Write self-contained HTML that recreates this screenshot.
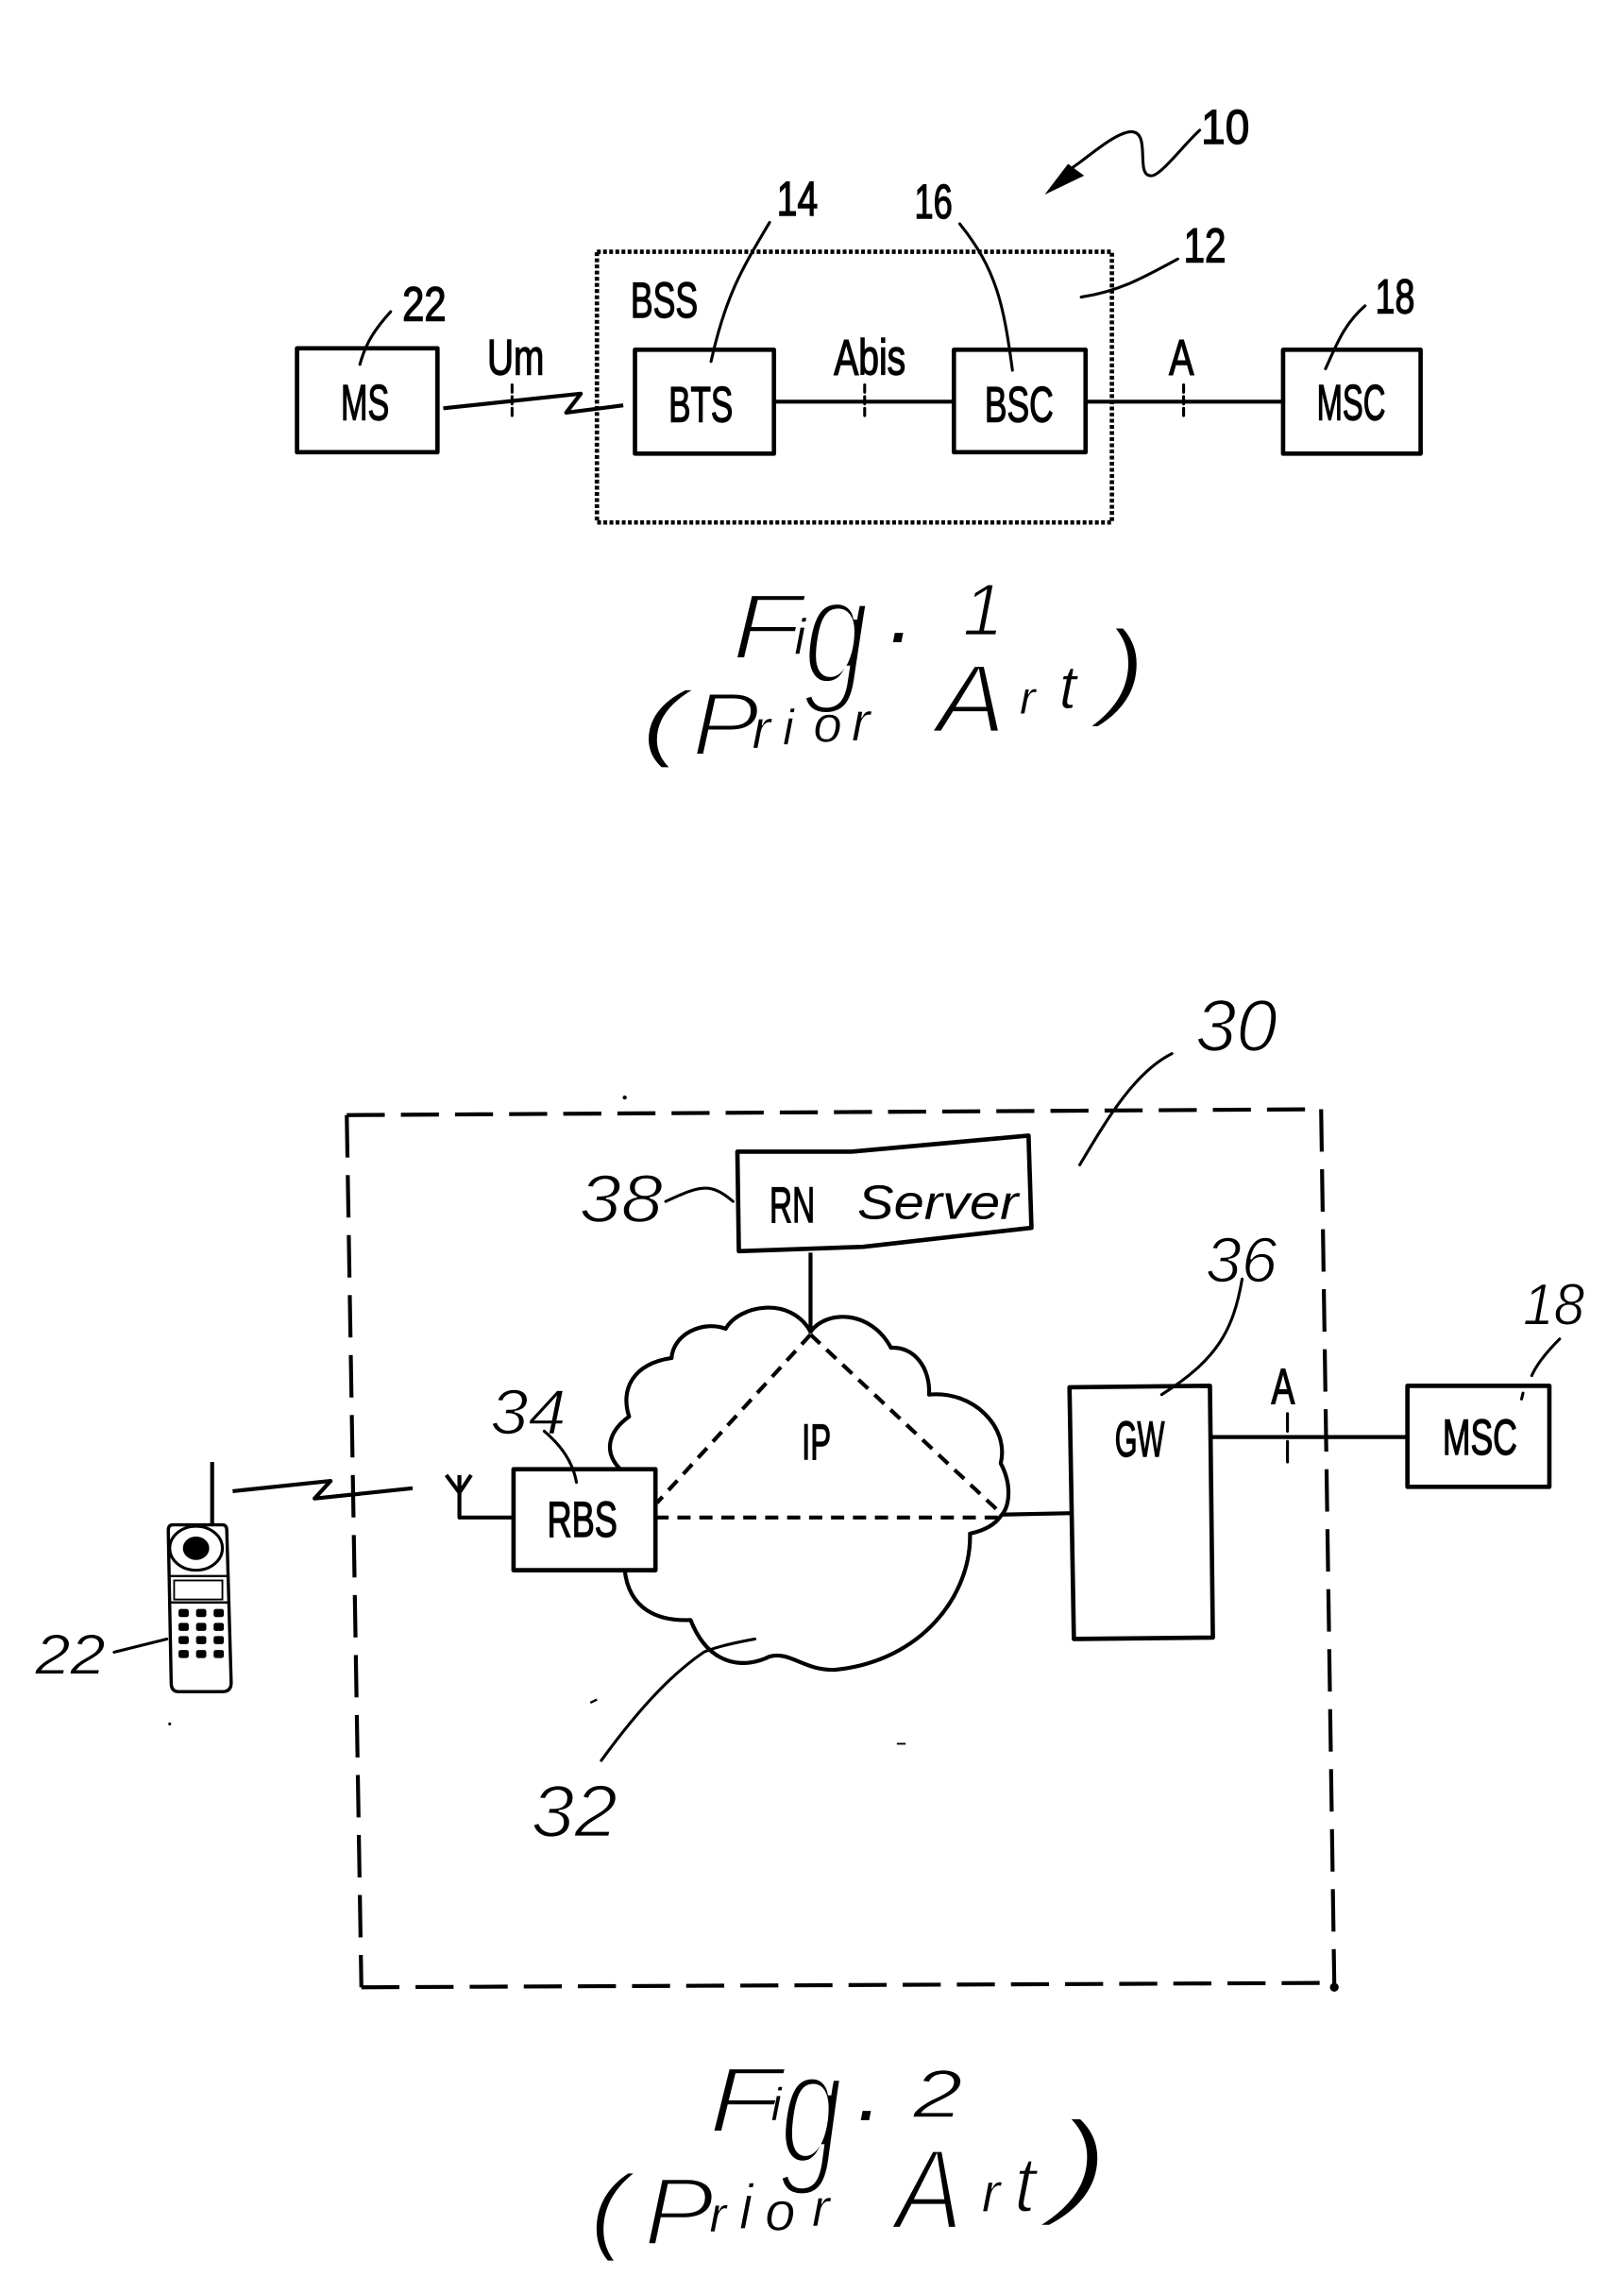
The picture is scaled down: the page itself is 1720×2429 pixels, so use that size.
<!DOCTYPE html>
<html lang="en"><head><meta charset="utf-8"><title>Fig. 1 and Fig. 2 (Prior Art)</title>
<style>
html,body{margin:0;padding:0;background:#fff}
svg{display:block}
.l{fill:none;stroke:#000;stroke-width:2.7;stroke-linecap:butt;stroke-linejoin:round}
.t{fill:none;stroke:#000;stroke-width:2;stroke-linecap:round}
.box{fill:#fff;stroke:#000;stroke-width:3;stroke-linejoin:round}
text{font-family:"Liberation Sans",sans-serif;fill:#000}
.p{font-size:34px;stroke:#000;stroke-width:.9}
.n{font-size:33px;stroke:#000;stroke-width:.9}
.h{font-style:italic;stroke:#fff}
</style></head><body>
<svg xmlns="http://www.w3.org/2000/svg" width="1720" height="2429" viewBox="0 0 1110 1567.6">
<rect width="1110" height="1568" fill="#fff"/>

<!-- FIG 1 -->
<rect x="408" y="172" width="352" height="185" fill="none" stroke="#000" stroke-width="3" stroke-dasharray="2.6 1.6"/>
<path class="l" stroke-width="3.2" d="M529,274.5H652M742,274.5H877"/>
<path class="l" stroke-width="3" d="M303,279L397,269L387,282L426,277"/>
<path class="t" stroke-width="2.4" stroke-linecap="butt" stroke-dasharray="5 3" d="M350,263V287M591,263V287M809,263V287"/>
<rect class="box" x="203" y="238" width="96" height="71"/>
<rect class="box" x="434" y="239" width="95" height="71"/>
<rect class="box" x="652" y="239" width="90" height="70"/>
<rect class="box" x="877" y="239" width="94" height="71"/>
<text class="p" x="233" y="287" textLength="33" lengthAdjust="spacingAndGlyphs">MS</text>
<text class="p" x="457" y="288" textLength="44" lengthAdjust="spacingAndGlyphs">BTS</text>
<text class="p" x="673" y="288" textLength="47" lengthAdjust="spacingAndGlyphs">BSC</text>
<text class="p" x="900" y="287" textLength="47" lengthAdjust="spacingAndGlyphs">MSC</text>
<text class="p" x="333" y="256" textLength="39" lengthAdjust="spacingAndGlyphs">Um</text>
<text class="p" x="570" y="256" textLength="49" lengthAdjust="spacingAndGlyphs">Abis</text>
<text class="p" x="799" y="256" textLength="17" lengthAdjust="spacingAndGlyphs">A</text>
<text class="p" x="431" y="217" textLength="46" lengthAdjust="spacingAndGlyphs">BSS</text>
<text class="n" x="275" y="219" textLength="30" lengthAdjust="spacingAndGlyphs">22</text>
<text class="n" x="531" y="147" textLength="28" lengthAdjust="spacingAndGlyphs">14</text>
<text class="n" x="625" y="149" textLength="26" lengthAdjust="spacingAndGlyphs">16</text>
<text class="n" x="809" y="179" textLength="29" lengthAdjust="spacingAndGlyphs">12</text>
<text class="n" x="940" y="214" textLength="27" lengthAdjust="spacingAndGlyphs">18</text>
<text class="n" x="821" y="98" textLength="33" lengthAdjust="spacingAndGlyphs">10</text>
<path class="t" d="M267,213C257,224 250,234 246,249M526,152C507,184 496,202 486,247M656,153C681,184 686,208 692,253M805,177C781,190 765,199 739,203M933,209C918,222 913,237 906,252"/>
<path class="t" stroke-width="2.4" d="M820,89C808,100 792,122 786,120C776,119 787,90 773,90C760,91 739,112 729,117"/>
<path d="M714,133L730,112L741,120Z" fill="#000"/>

<!-- Fig 1 caption -->
<text class="h" x="549" y="467" font-size="104" textLength="45" lengthAdjust="spacingAndGlyphs" stroke-width="4">g</text>
<text class="h" x="500" y="450" font-size="64" textLength="48" lengthAdjust="spacingAndGlyphs" stroke-width="2.2">F</text>
<text class="h" x="543" y="447" font-size="34" stroke-width=".3">i</text>
<text class="h" x="608" y="439" font-size="60" stroke-width="0">.</text>
<text class="h" x="658" y="434" font-size="50" stroke-width="1.2">1</text>
<text class="h" x="438" y="513" font-size="58" textLength="30" lengthAdjust="spacingAndGlyphs" stroke-width="1.5">(</text>
<text class="h" x="473" y="516" font-size="61" textLength="46" lengthAdjust="spacingAndGlyphs" stroke-width="2">P</text>
<text class="h" x="514" y="511" font-size="38" stroke-width=".5">r</text>
<text class="h" x="535" y="509" font-size="34" stroke-width=".4">i</text>
<text class="h" x="556" y="507" font-size="35" stroke-width=".4">o</text>
<text class="h" x="582" y="506" font-size="38" stroke-width=".5">r</text>
<text class="h" x="640" y="500" font-size="66" textLength="47" lengthAdjust="spacingAndGlyphs" stroke-width="1.8">A</text>
<text class="h" x="697" y="488" font-size="32" stroke-width=".3">r</text>
<text class="h" x="724" y="484" font-size="42" stroke-width=".6">t</text>
<text class="h" x="752" y="482" font-size="74" textLength="32" lengthAdjust="spacingAndGlyphs" stroke-width="2.2">)</text>

<!-- FIG 2 -->
<path class="l" stroke-width="3" stroke-dasharray="26 11" d="M237,762L903,758"/>
<path class="l" stroke-width="3" stroke-dasharray="29 12" d="M237,762L247,1358"/>
<path class="l" stroke-width="3" stroke-dasharray="29 12" d="M903,758L912,1356"/>
<path class="l" stroke-width="3" stroke-dasharray="26 11" d="M247,1358L912,1355"/>
<circle cx="912" cy="1358" r="3"/>

<path class="l" d="M424,1004C412,992 416,978 430,968C424,950 432,932 459,928C460,912 480,902 496,908C505,892 540,885 554,910C565,895 595,895 609,921C625,920 636,935 635,953C665,950 690,975 684,1000C692,1015 690,1030 684,1036C680,1042 672,1046 663,1048C664,1090 630,1135 571,1141C550,1142 540,1128 526,1132C510,1140 485,1140 472,1107C450,1108 430,1100 427,1073"/>
<path class="l" d="M554,856V911M684,1035L733,1034M828,982H962"/>
<path class="l" stroke-dasharray="9 6" d="M554,912L449,1027M554,912L684,1034M448,1037H684"/>
<path class="box" d="M504,787L582,787L703,776L705,839L590,852L505,855Z"/>
<rect class="box" x="351" y="1004" width="97" height="69"/>
<path class="box" d="M731,948L827,947L829,1119L734,1120Z"/>
<rect class="box" x="962" y="947" width="97" height="69"/>
<path class="t" stroke-width="2.6" stroke-linecap="butt" d="M880,966V978M880,985V999"/>

<text class="p" x="526" y="835" textLength="31" lengthAdjust="spacingAndGlyphs">RN</text>
<text class="h" x="586" y="833" font-size="33" textLength="110" lengthAdjust="spacingAndGlyphs" stroke-width="0">Server</text>
<text class="p" x="548" y="997" textLength="20" lengthAdjust="spacingAndGlyphs">IP</text>
<text class="p" x="374" y="1050" textLength="48" lengthAdjust="spacingAndGlyphs">RBS</text>
<text class="p" x="762" y="995" textLength="34" lengthAdjust="spacingAndGlyphs">GW</text>
<text class="p" x="986" y="994" textLength="51" lengthAdjust="spacingAndGlyphs">MSC</text>
<text class="p" x="869" y="959" textLength="16" lengthAdjust="spacingAndGlyphs">A</text>

<text class="h" x="396" y="835" font-size="46" textLength="57" lengthAdjust="spacingAndGlyphs" stroke-width="1">38</text>
<text class="h" x="335" y="980" font-size="44" textLength="52" lengthAdjust="spacingAndGlyphs" stroke-width="1">34</text>
<text class="h" x="363" y="1255" font-size="50" textLength="59" lengthAdjust="spacingAndGlyphs" stroke-width="1.2">32</text>
<text class="h" x="24" y="1144" font-size="39" textLength="48" lengthAdjust="spacingAndGlyphs" stroke-width=".6">22</text>
<text class="h" x="824" y="876" font-size="44" textLength="49" lengthAdjust="spacingAndGlyphs" stroke-width="1">36</text>
<text class="h" x="1041" y="905" font-size="40" textLength="42" lengthAdjust="spacingAndGlyphs" stroke-width=".7">18</text>
<text class="h" x="817" y="718" font-size="50" textLength="56" lengthAdjust="spacingAndGlyphs" stroke-width="1.2">30</text>

<path class="t" stroke-width="2.6" d="M801,720C775,733 756,766 738,796"/>
<path class="t" d="M849,874C843,909 832,929 794,953M1066,915C1056,925 1050,933 1047,940M1040,956L1041,952M455,821C477,811 485,807 501,821M372,978C385,989 392,1001 394,1013M411,1203C440,1163 462,1142 481,1129C490,1125 505,1122 516,1120M78,1129L114,1120"/>

<!-- wireless link + antenna -->
<path class="l" stroke-width="2.4" d="M159,1019L226,1012L215,1024L282,1017"/>
<path class="l" stroke-width="2.2" d="M305,1008L314,1020L322,1008M314,1008V1037H351"/>

<!-- phone -->
<path class="l" stroke-width="2.2" d="M145,999V1042"/>
<path d="M118,1042H152Q155,1042 155,1046L158,1150Q158,1156 152,1156H122Q117,1156 117,1150L115,1046Q115,1042 118,1042Z" fill="#fff" stroke="#000" stroke-width="2.2"/>
<ellipse cx="134" cy="1058" rx="18" ry="15" fill="#fff" stroke="#000" stroke-width="2"/>
<ellipse cx="134" cy="1058" rx="9" ry="8" fill="#000"/>
<path d="M115,1077H156M116,1095H156" stroke="#000" stroke-width="1.6"/>
<rect x="119" y="1080" width="33" height="13" fill="#fff" stroke="#000" stroke-width="1.2"/>
<g fill="#000">
<rect x="122" y="1099.500" width="7" height="5.500" rx="1.500"/><rect x="134" y="1099.500" width="7" height="5.500" rx="1.500"/><rect x="146" y="1099.500" width="7" height="5.500" rx="1.500"/>
<rect x="122" y="1109" width="7" height="5.500" rx="1.500"/><rect x="134" y="1109" width="7" height="5.500" rx="1.500"/><rect x="146" y="1109" width="7" height="5.500" rx="1.500"/>
<rect x="122" y="1118" width="7" height="5.500" rx="1.500"/><rect x="134" y="1118" width="7" height="5.500" rx="1.500"/><rect x="146" y="1118" width="7" height="5.500" rx="1.500"/>
<rect x="122" y="1127.500" width="7" height="5.500" rx="1.500"/><rect x="134" y="1127.500" width="7" height="5.500" rx="1.500"/><rect x="146" y="1127.500" width="7" height="5.500" rx="1.500"/>
</g>

<!-- specks -->
<g fill="#000"><circle cx="427" cy="750" r="1.400"/><circle cx="116" cy="1178" r="1"/><rect x="403" y="1162" width="5" height="1.500" transform="rotate(-25 405 1162)"/><rect x="613" y="1191" width="6" height="1.200"/></g>

<!-- Fig 2 caption -->
<text class="h" x="533" y="1478" font-size="110" textLength="43" lengthAdjust="spacingAndGlyphs" stroke-width="4">g</text>
<text class="h" x="484" y="1457" font-size="64" textLength="50" lengthAdjust="spacingAndGlyphs" stroke-width="2.2">F</text>
<text class="h" x="527" y="1449" font-size="32" stroke-width=".3">i</text>
<text class="h" x="586" y="1449" font-size="60" stroke-width="0">.</text>
<text class="h" x="624" y="1447" font-size="47" textLength="34" lengthAdjust="spacingAndGlyphs" stroke-width="1">2</text>
<text class="h" x="403" y="1532" font-size="66" textLength="26" lengthAdjust="spacingAndGlyphs" stroke-width="1.8">(</text>
<text class="h" x="440" y="1534" font-size="66" textLength="48" lengthAdjust="spacingAndGlyphs" stroke-width="2.2">P</text>
<text class="h" x="485" y="1525" font-size="34" stroke-width=".3">r</text>
<text class="h" x="505" y="1523" font-size="44" stroke-width="1">i</text>
<text class="h" x="523" y="1524" font-size="37" stroke-width=".4">o</text>
<text class="h" x="555" y="1521" font-size="36" stroke-width=".4">r</text>
<text class="h" x="612" y="1523" font-size="78" textLength="46" lengthAdjust="spacingAndGlyphs" stroke-width="2.4">A</text>
<text class="h" x="671" y="1511" font-size="38" stroke-width=".5">r</text>
<text class="h" x="693" y="1511" font-size="54" stroke-width="1.4">t</text>
<text class="h" x="719" y="1505" font-size="80" textLength="40" lengthAdjust="spacingAndGlyphs" stroke-width="2.4">)</text>
</svg>
</body></html>
